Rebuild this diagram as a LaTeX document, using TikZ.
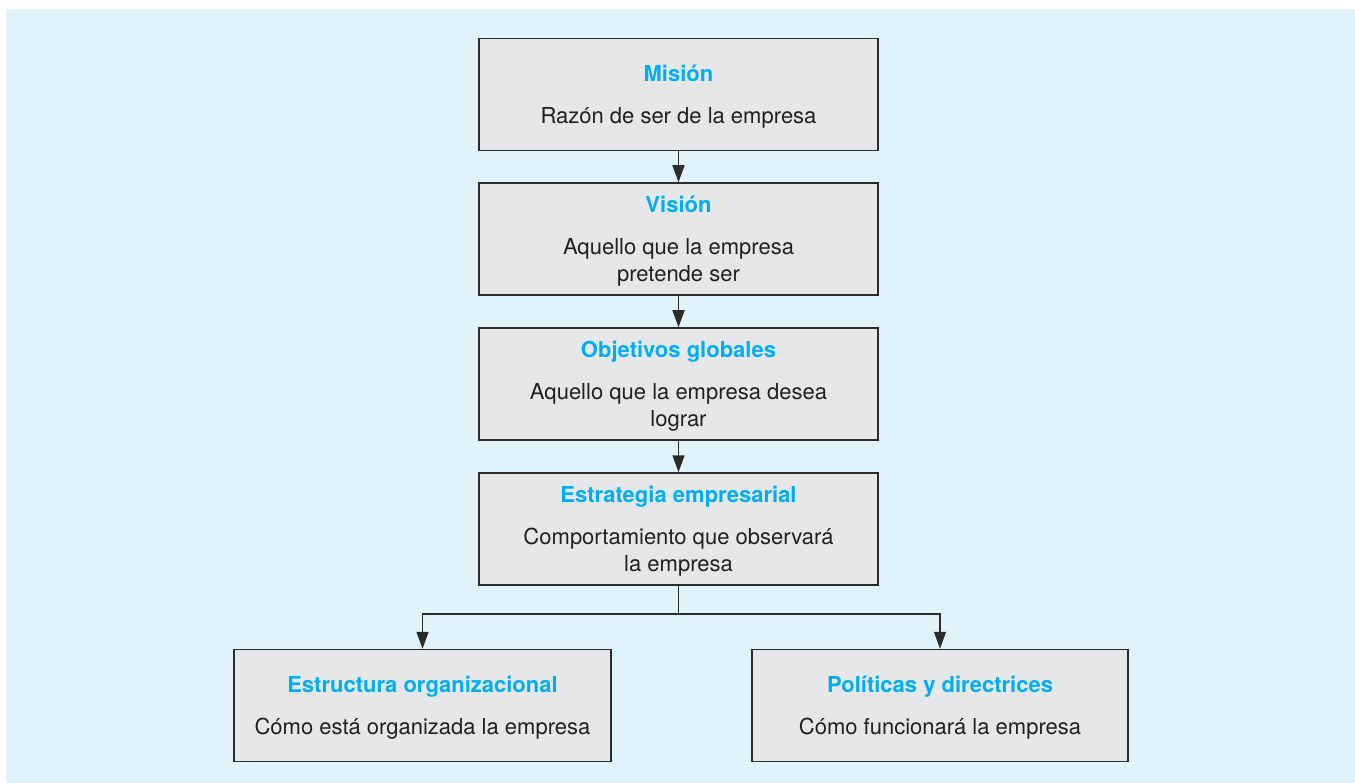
\documentclass[tikz,border=0pt]{standalone}
\usepackage{fontspec}
\setmainfont{TeX Gyre Heros}
\usetikzlibrary{arrows.meta}
\definecolor{bgblue}{HTML}{E0F3FB}
\definecolor{boxgray}{HTML}{E6E7E9}
\definecolor{titlecyan}{HTML}{00AEEF}
\definecolor{textdark}{HTML}{231F20}
\definecolor{linedark}{HTML}{2B2B2B}
\newcommand{\boxtitle}[1]{{\color{titlecyan}\bfseries #1}\\[15pt]}
\tikzset{
  infobox/.style={draw=linedark, line width=1.5pt, fill=boxgray, rectangle,
    minimum height=112pt, align=center, inner sep=0pt, text depth=-1.5pt,
    font=\fontsize{22}{27}\selectfont, text=textdark},
  link/.style={draw=linedark, line width=1.5pt, -{Triangle[length=17pt,width=12pt]}}
}
\begin{document}
\begin{tikzpicture}[x=1pt,y=-1pt]
\useasboundingbox (0,0) rectangle (1355,783);
\fill[bgblue] (6,9) rectangle (1355,783);
\node[infobox, minimum width=399pt] (mision) at (678.5,94.5)
  {\boxtitle{Misión}Razón de ser de la empresa};
\node[infobox, minimum width=399pt] (vision) at (678.5,239)
  {\boxtitle{Visión}Aquello que la empresa\\pretende ser};
\node[infobox, minimum width=399pt] (objetivos) at (678.5,384)
  {\boxtitle{Objetivos globales}Aquello que la empresa desea\\lograr};
\node[infobox, minimum width=399pt] (estrategia) at (678.5,529)
  {\boxtitle{Estrategia empresarial}Comportamiento que observará\\la empresa};
\node[infobox, minimum width=377pt] (estructura) at (422.5,705.5)
  {\boxtitle{Estructura organizacional}Cómo está organizada la empresa};
\node[infobox, minimum width=376pt] (politicas) at (940,705.5)
  {\boxtitle{Políticas y directrices}Cómo funcionará la empresa};
\draw[link] (mision) -- (vision);
\draw[link] (vision) -- (objetivos);
\draw[link] (objetivos) -- (estrategia);
\coordinate (branch) at (678.5,614);
\draw[draw=linedark, line width=1.5pt] (estrategia.south) -- (branch);
\draw[link] (branch) -| (estructura.north);
\draw[link] (branch) -| (politicas.north);
\end{tikzpicture}
\end{document}
